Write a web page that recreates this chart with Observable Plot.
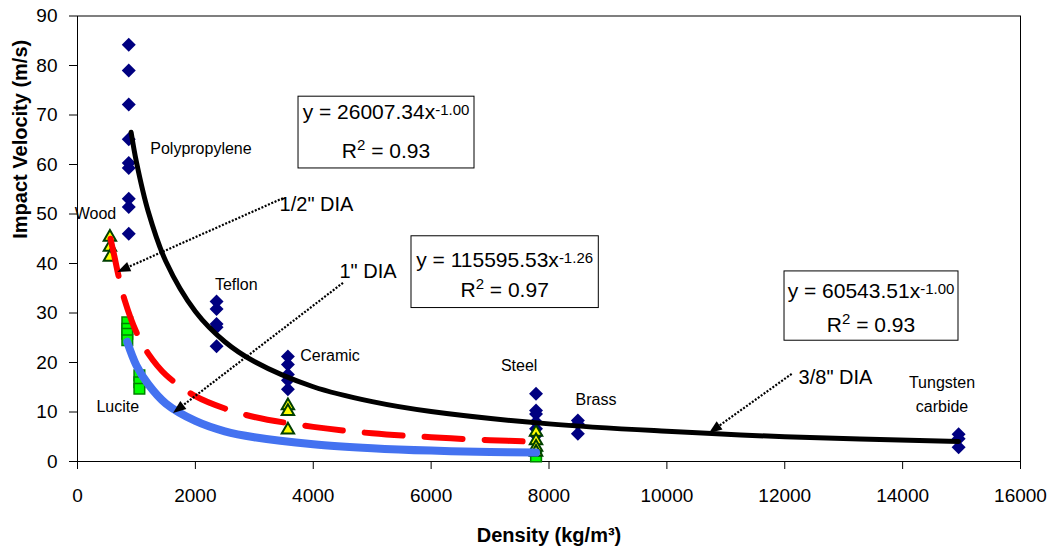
<!DOCTYPE html>
<html><head><meta charset="utf-8">
<script src="https://cdn.jsdelivr.net/npm/d3@7"></script>
<script src="https://cdn.jsdelivr.net/npm/@observablehq/plot@0.6"></script>
<style>body{margin:0;background:#fff;} svg{display:block;}</style>
</head><body><div id="chart"></div>
<script>
const FONT = "'Liberation Sans', Arial, Helvetica, sans-serif";

// ---- measured points (density kg/m3, impact velocity m/s) ----
// 3/8" DIA  (navy diamonds)
const dia38Density  = [870,870,870,870,870,870,870,870,870, 2360,2360,2360,2360,2360, 3570,3570,3570,3570,3570, 7780,7780,7780,7780,7780,7780, 8490,8490,8490, 14950,14950,14950];
const dia38Velocity = [84.2,79.0,72.1,65.1,60.3,59.3,53.1,51.4,46.0, 32.3,30.8,27.8,27.1,23.3, 21.2,19.6,17.6,16.4,14.6, 13.7,10.3,9.6,8.0,6.6,5.3, 8.3,7.6,5.6, 5.5,4.6,2.9];
// 1/2" DIA  (yellow triangles)
const dia12Density  = [550,550,550, 3570,3570,3570, 7780,7780,7780,7780];
const dia12Velocity = [45.3,43.3,41.3, 11.3,10.1,6.4, 5.9,4.2,2.9,1.9];
// 1" DIA  (green squares)
const dia1Density  = [845,845,845,845, 1050,1050,1050, 7780,7780];
const dia1Velocity = [28.1,26.8,25.8,24.5, 17.4,16.0,14.7, 1.4,1.0];

// ---- trend lines ----
const fit38Density  = [910,1000,1200,1500,2000,2500,3000,4000,5000,6000,8000,10000,12000,14950];
const fit38Velocity = [66.5,60.5,50.5,40.4,30.3,24.2,20.2,15.1,12.1,10.1,7.6,6.1,5.0,4.05];
const fit12Density  = [560,620,700,800,1000,1200,1500,2000,2500,3000,4000,5000,6000,7000,7780];
const fit12Velocity = [45.0,41.8,37.3,32.6,26.1,21.8,17.5,13.2,10.7,9.0,7.0,5.7,4.9,4.3,4.0];
const fit1Density   = [843,1000,1200,1500,2000,2500,3000,4000,5000,6000,7000,7780];
const fit1Velocity  = [24.2,19.4,15.6,11.7,8.2,6.1,4.9,3.5,2.7,2.2,1.9,1.8];

// ---- ticks ----
const xTicks = [0,2000,4000,6000,8000,10000,12000,14000,16000];
const yTicks = [0,10,20,30,40,50,60,70,80,90];

// ---- labels ----
const materialNames = ["Polypropylene","Wood","Teflon","Ceramic","Lucite","Steel","Brass","Tungsten","carbide"];
const materialX     = [2095, 305, 2694, 4284, 684, 7494, 8797, 14668, 14668];
const materialY     = [63.2, 50.0, 35.6, 21.3, 11.0, 19.4, 12.5, 15.8, 11.0];

const diaNames = ["1/2\" DIA", "1\" DIA", "3/8\" DIA"];
const diaX     = [4055, 4929, 12861];
const diaY     = [52.0, 38.4, 16.9];

const arrowFromX = [3495, 4513, 12126];
const arrowFromY = [53.1, 36.0, 17.6];
const arrowToX   = [684, 1629, 10723];
const arrowToY   = [38.2, 9.7, 5.66];

// equation boxes
const eqCoef  = ["26007.34", "115595.53", "60543.51"];
const eqExp   = ["-1.00", "-1.26", "-1.00"];
const eqR2    = ["0.93", "0.97", "0.93"];
const eqBoxX1 = [3750, 5667, 11996];
const eqBoxX2 = [6736, 8845, 14948];
const eqBoxY1 = [59.2, 31.0, 24.4];
const eqBoxY2 = [73.7, 45.5, 38.4];
const eqLine1Y = [69.1, 39.2, 32.9];
const eqLine2Y = [61.2, 33.1, 26.1];

const rows = (xs, ys) => xs.map((x, i) => ({x, y: ys[i]}));
const diamonds = rows(dia38Density, dia38Velocity);
const triangles = rows(dia12Density, dia12Velocity);
const squares = rows(dia1Density, dia1Velocity);
const fit38 = rows(fit38Density, fit38Velocity);
const fit12 = rows(fit12Density, fit12Velocity);
const fit1 = rows(fit1Density, fit1Velocity);
const materials = materialNames.map((t, i) => ({t, x: materialX[i], y: materialY[i]}));
const dias = diaNames.map((t, i) => ({t, x: diaX[i], y: diaY[i]}));
const boxes = eqCoef.map((c, i) => ({x1: eqBoxX1[i], x2: eqBoxX2[i], y1: eqBoxY1[i], y2: eqBoxY2[i]}));

const chart = Plot.plot({
  width: 1054, height: 552,
  marginLeft: 77, marginRight: 34, marginTop: 15.5, marginBottom: 91,
  style: {fontFamily: FONT, background: "#fff", color: "#000", overflow: "visible"},
  x: {domain: [0, 16000]},
  y: {domain: [0, 90]},
  marks: [
    Plot.frame({stroke: "#000", strokeWidth: 1}),
    Plot.axisX({ticks: xTicks, tickFormat: d3.format("d"), tickSize: 8, tickPadding: 19, fontSize: 19, label: null}),
    Plot.axisY({ticks: yTicks, tickFormat: d3.format("d"), tickSize: 8, tickPadding: 12, fontSize: 19, label: null}),
    Plot.text(["Density (kg/m³)"], {frameAnchor: "bottom", dy: 74, fontSize: 20, fontWeight: "bold", lineAnchor: "middle", fill: "#000"}),
    Plot.text(["Impact Velocity (m/s)"], {frameAnchor: "left", dx: -57, rotate: -90, fontSize: 20, fontWeight: "bold", lineAnchor: "middle", fill: "#000"}),
    Plot.dot(diamonds, {x: "x", y: "y", symbol: "diamond2", r: 6.3, fill: "#000080", stroke: "none"}),
    Plot.dot(squares, {x: "x", y: "y", symbol: "square", r: 6.0, fill: "#00ff00", stroke: "#008000", strokeWidth: 1.5}),
    Plot.dot(triangles, {x: "x", y: "y", symbol: "triangle", r: 4.6, fill: "#ffff00", stroke: "#004000", strokeWidth: 2}),
    Plot.line(fit12, {x: "x", y: "y", stroke: "#ff0000", strokeWidth: 6, strokeDasharray: "38,22", curve: "catmull-rom"}),
    Plot.line(fit1, {x: "x", y: "y", stroke: "#4472f0", strokeWidth: 8, curve: "catmull-rom"}),
    Plot.line(fit38, {x: "x", y: "y", stroke: "#000", strokeWidth: 5, curve: "catmull-rom"}),
    Plot.rect(boxes, {x1: "x1", x2: "x2", y1: "y1", y2: "y2", fill: "#fff", stroke: "#000", strokeWidth: 1}),
    Plot.text(materials, {x: "x", y: "y", text: "t", fontSize: 16, fill: "#000", lineAnchor: "middle"}),
    Plot.text(dias, {x: "x", y: "y", text: "t", fontSize: 20, fill: "#000", lineAnchor: "middle"})
  ]
});
document.getElementById("chart").appendChild(chart);

function scaleOf(name) {
  const s = chart.scale(name);
  if (s && typeof s.apply === "function") return v => s.apply(v);
  const l = d3.scaleLinear().domain(s.domain).range(s.range);
  return v => l(v);
}
const sx = scaleOf("x"), sy = scaleOf("y");
const g = d3.select(chart).append("g").attr("font-family", FONT);

// arrows
arrowFromX.forEach((_, i) => {
  const x0 = sx(arrowFromX[i]), y0 = sy(arrowFromY[i]);
  const x1 = sx(arrowToX[i]), y1 = sy(arrowToY[i]);
  const dx = x1 - x0, dy = y1 - y0, len = Math.hypot(dx, dy);
  const ux = dx / len, uy = dy / len, hl = 13, hw = 5;
  const bx = x1 - ux * hl, by = y1 - uy * hl;
  g.append("line").attr("x1", x0).attr("y1", y0).attr("x2", bx).attr("y2", by)
    .attr("stroke", "#000").attr("stroke-width", 2.2).attr("stroke-dasharray", "2,1.6");
  g.append("polygon")
    .attr("points", [[x1, y1], [bx - uy * hw, by + ux * hw], [bx + uy * hw, by - ux * hw]].map(p => p.join(",")).join(" "))
    .attr("fill", "#000");
});

// equations
eqCoef.forEach((c, i) => {
  const cx = sx((eqBoxX1[i] + eqBoxX2[i]) / 2);
  const t1 = g.append("text").attr("x", cx).attr("y", sy(eqLine1Y[i])).attr("text-anchor", "middle").attr("font-size", 21).attr("fill", "#000");
  t1.append("tspan").text(`y = ${c}x`);
  t1.append("tspan").attr("dy", -4).attr("font-size", 15).text(eqExp[i]);
  const t2 = g.append("text").attr("x", cx).attr("y", sy(eqLine2Y[i])).attr("text-anchor", "middle").attr("font-size", 21).attr("fill", "#000");
  t2.append("tspan").text("R");
  t2.append("tspan").attr("dy", -8).attr("font-size", 15).text("2");
  t2.append("tspan").attr("dy", 8).text(` = ${eqR2[i]}`);
});
</script>
</body></html>
